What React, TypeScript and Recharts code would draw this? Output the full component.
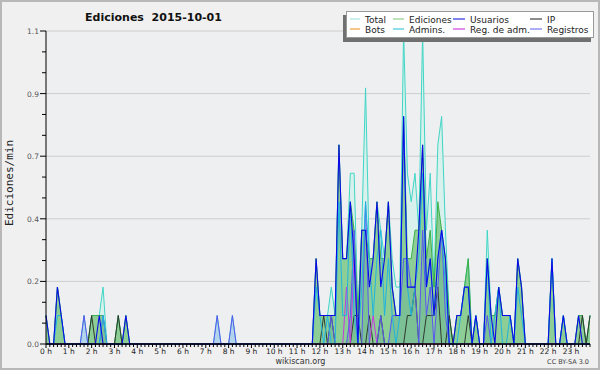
import { ComposedChart, Area, Line, XAxis, YAxis, CartesianGrid } from 'recharts'

const FONT = '"DejaVu Sans", sans-serif'

// 144 slots of 10 minutes, values in edits/min
const total = [
  0.1, 0, 0, 0.2, 0.1, 0, 0, 0, 0, 0, 0.1, 0,
  0.1, 0.1, 0.1, 0.2, 0, 0, 0, 0.1, 0, 0.1, 0, 0,
  0, 0, 0, 0, 0, 0, 0, 0, 0, 0, 0, 0,
  0, 0, 0, 0, 0, 0, 0, 0, 0, 0.1, 0, 0,
  0, 0.1, 0, 0, 0, 0, 0, 0, 0, 0, 0, 0,
  0, 0, 0, 0, 0, 0, 0, 0, 0, 0, 0, 0.3,
  0.1, 0.1, 0.1, 0.2, 0.1, 0.7, 0.3, 0.3, 0.6, 0.6, 0.1, 0.4,
  0.9, 0.3, 0.3, 0.5, 0.4, 0.3, 0.5, 0.3, 0.2, 0.2, 1.1, 0.6,
  0.5, 0.6, 0.4, 1.1, 0.4, 0.6, 0.2, 0.7, 0.8, 0.4, 0.1, 0,
  0.1, 0.1, 0.2, 0.3, 0, 0.1, 0, 0, 0.4, 0.1, 0.1, 0.2,
  0.1, 0.1, 0.1, 0, 0.3, 0.2, 0, 0, 0, 0, 0, 0,
  0, 0.3, 0, 0, 0.1, 0, 0, 0, 0.1, 0.1, 0, 0.1,
]

const ediciones = [
  0.1, 0, 0, 0.2, 0.1, 0, 0, 0, 0, 0, 0, 0,
  0.1, 0.1, 0.1, 0.1, 0, 0, 0, 0.1, 0, 0.1, 0, 0,
  0, 0, 0, 0, 0, 0, 0, 0, 0, 0, 0, 0,
  0, 0, 0, 0, 0, 0, 0, 0, 0, 0, 0, 0,
  0, 0, 0, 0, 0, 0, 0, 0, 0, 0, 0, 0,
  0, 0, 0, 0, 0, 0, 0, 0, 0, 0, 0, 0.3,
  0.1, 0.1, 0.1, 0.1, 0.1, 0.7, 0.3, 0.3, 0.5, 0.4, 0.1, 0.4,
  0.4, 0.3, 0.3, 0.5, 0.3, 0.3, 0.5, 0.2, 0.1, 0.1, 0.8, 0.3,
  0.3, 0.4, 0.4, 0.7, 0.3, 0.4, 0.2, 0.5, 0.4, 0.3, 0.1, 0,
  0.1, 0.1, 0.2, 0.3, 0, 0.1, 0, 0, 0.3, 0.1, 0.1, 0.2,
  0.1, 0.1, 0.1, 0, 0.3, 0.2, 0, 0, 0, 0, 0, 0,
  0, 0.3, 0, 0, 0.1, 0, 0, 0, 0.1, 0.1, 0, 0.1,
]

const usuarios = [
  0.1, 0, 0, 0.2, 0.1, 0, 0, 0, 0, 0, 0, 0,
  0, 0, 0.1, 0, 0, 0, 0, 0, 0, 0.1, 0, 0,
  0, 0, 0, 0, 0, 0, 0, 0, 0, 0, 0, 0,
  0, 0, 0, 0, 0, 0, 0, 0, 0, 0, 0, 0,
  0, 0, 0, 0, 0, 0, 0, 0, 0, 0, 0, 0,
  0, 0, 0, 0, 0, 0, 0, 0, 0, 0, 0, 0.3,
  0.1, 0.1, 0.1, 0.1, 0.1, 0.7, 0.3, 0.3, 0.5, 0.3, 0, 0.4,
  0.4, 0.2, 0.3, 0.5, 0.2, 0.3, 0.5, 0.2, 0.1, 0.1, 0.8, 0.2,
  0.2, 0.2, 0.4, 0.7, 0.2, 0.3, 0.1, 0.3, 0.4, 0.3, 0, 0,
  0.1, 0.1, 0.2, 0.2, 0, 0.1, 0, 0, 0.3, 0.1, 0, 0.2,
  0.1, 0.1, 0.1, 0, 0.3, 0.2, 0, 0, 0, 0, 0, 0,
  0, 0.3, 0, 0, 0.1, 0, 0, 0, 0.1, 0, 0, 0,
]

const ip = [
  0, 0, 0, 0, 0, 0, 0, 0, 0, 0, 0, 0,
  0.1, 0, 0, 0, 0, 0, 0, 0.1, 0, 0, 0, 0,
  0, 0, 0, 0, 0, 0, 0, 0, 0, 0, 0, 0,
  0, 0, 0, 0, 0, 0, 0, 0, 0, 0, 0, 0,
  0, 0, 0, 0, 0, 0, 0, 0, 0, 0, 0, 0,
  0, 0, 0, 0, 0, 0, 0, 0, 0, 0, 0, 0,
  0, 0.1, 0, 0.1, 0, 0, 0, 0, 0, 0.1, 0.1, 0,
  0, 0.1, 0, 0, 0.1, 0, 0, 0, 0, 0, 0, 0.1,
  0.1, 0.2, 0, 0, 0.1, 0.1, 0.1, 0.2, 0, 0, 0.1, 0,
  0, 0, 0, 0.1, 0, 0, 0, 0, 0, 0, 0, 0,
  0, 0, 0, 0, 0, 0, 0, 0, 0, 0, 0, 0,
  0, 0, 0, 0, 0, 0, 0, 0, 0, 0.1, 0, 0.1,
]

const bots = [
  0, 0, 0, 0, 0, 0, 0, 0, 0, 0, 0, 0,
  0, 0, 0, 0, 0, 0, 0, 0, 0, 0, 0, 0,
  0, 0, 0, 0, 0, 0, 0, 0, 0, 0, 0, 0,
  0, 0, 0, 0, 0, 0, 0, 0, 0, 0, 0, 0,
  0, 0, 0, 0, 0, 0, 0, 0, 0, 0, 0, 0,
  0, 0, 0, 0, 0, 0, 0, 0, 0, 0, 0, 0,
  0, 0, 0, 0, 0, 0, 0, 0, 0, 0, 0, 0,
  0, 0, 0, 0, 0, 0, 0, 0, 0, 0, 0, 0,
  0, 0, 0, 0, 0, 0, 0, 0, 0, 0, 0, 0,
  0, 0, 0, 0, 0, 0, 0, 0, 0, 0, 0, 0,
  0, 0, 0, 0, 0, 0, 0, 0, 0, 0, 0, 0,
  0, 0, 0, 0, 0, 0, 0, 0, 0, 0, 0, 0,
]

const admins = [
  0, 0, 0, 0.1, 0.1, 0, 0, 0, 0, 0, 0, 0,
  0, 0, 0, 0.1, 0, 0, 0, 0, 0, 0, 0, 0,
  0, 0, 0, 0, 0, 0, 0, 0, 0, 0, 0, 0,
  0, 0, 0, 0, 0, 0, 0, 0, 0, 0, 0, 0,
  0, 0, 0, 0, 0, 0, 0, 0, 0, 0, 0, 0,
  0, 0, 0, 0, 0, 0, 0, 0, 0, 0, 0, 0.2,
  0.1, 0, 0.1, 0, 0, 0.5, 0.1, 0.1, 0.5, 0.1, 0, 0.2,
  0.5, 0.3, 0.1, 0.3, 0.4, 0.1, 0.3, 0.1, 0, 0.1, 0.8, 0.2,
  0.1, 0.2, 0.3, 0.6, 0.2, 0.3, 0.1, 0.3, 0.4, 0.2, 0, 0,
  0, 0.1, 0.2, 0.2, 0, 0.1, 0, 0, 0.3, 0, 0.1, 0.2,
  0, 0, 0.1, 0, 0.2, 0.1, 0, 0, 0, 0, 0, 0,
  0, 0.3, 0, 0, 0.1, 0, 0, 0, 0, 0, 0, 0,
]

const regAdm = [
  0, 0, 0, 0, 0, 0, 0, 0, 0, 0, 0, 0,
  0, 0, 0, 0, 0, 0, 0, 0, 0, 0, 0, 0,
  0, 0, 0, 0, 0, 0, 0, 0, 0, 0, 0, 0,
  0, 0, 0, 0, 0, 0, 0, 0, 0, 0, 0, 0,
  0, 0, 0, 0, 0, 0, 0, 0, 0, 0, 0, 0,
  0, 0, 0, 0, 0, 0, 0, 0, 0, 0, 0, 0,
  0, 0, 0, 0, 0, 0, 0, 0.2, 0, 0.3, 0, 0,
  0, 0, 0.1, 0, 0, 0, 0, 0, 0, 0, 0, 0,
  0, 0, 0, 0, 0, 0, 0, 0, 0, 0, 0, 0,
  0, 0, 0, 0, 0, 0, 0, 0, 0, 0, 0, 0,
  0, 0, 0, 0, 0, 0, 0, 0, 0, 0, 0, 0,
  0, 0, 0, 0, 0, 0, 0, 0, 0, 0, 0, 0,
]

const registros = [
  0, 0, 0, 0, 0, 0, 0, 0, 0, 0, 0.1, 0,
  0, 0, 0, 0.1, 0, 0, 0, 0, 0, 0, 0, 0,
  0, 0, 0, 0, 0, 0, 0, 0, 0, 0, 0, 0,
  0, 0, 0, 0, 0, 0, 0, 0, 0, 0.1, 0, 0,
  0, 0.1, 0, 0, 0, 0, 0, 0, 0, 0, 0, 0,
  0, 0, 0, 0, 0, 0, 0, 0, 0, 0, 0, 0,
  0, 0, 0, 0.1, 0, 0, 0, 0, 0.1, 0.4, 0, 0,
  0.5, 0, 0, 0, 0.1, 0, 0, 0.1, 0.1, 0.1, 0.3, 0.3,
  0.2, 0.2, 0, 0.4, 0.1, 0.2, 0, 0.2, 0.4, 0.1, 0, 0,
  0, 0, 0, 0, 0, 0, 0, 0, 0.1, 0, 0, 0,
  0, 0, 0, 0, 0, 0, 0, 0, 0, 0, 0, 0,
  0, 0, 0, 0, 0, 0, 0, 0, 0, 0, 0, 0,
]

const hourLabels = [
  '0 h', '1 h', '2 h', '3 h', '4 h', '5 h', '6 h', '7 h', '8 h', '9 h', '10 h', '11 h',
  '12 h', '13 h', '14 h', '15 h', '16 h', '17 h', '18 h', '19 h', '20 h', '21 h', '22 h', '23 h',
]
const yTickValues = [0, 0.22, 0.44, 0.66, 0.88, 1.1]
const yTickLabels = ['0.0', '0.2', '0.4', '0.7', '0.9', '1.1']

const legendItems = [
  { name: 'Total', color: '#a8e6de', col: 0, row: 0 },
  { name: 'Ediciones', color: '#8fd08f', col: 1, row: 0 },
  { name: 'Usuarios', color: '#3030e0', col: 2, row: 0 },
  { name: 'IP', color: '#404040', col: 3, row: 0 },
  { name: 'Bots', color: '#f0a040', col: 0, row: 1 },
  { name: 'Admins.', color: '#40c8e0', col: 1, row: 1 },
  { name: 'Reg. de adm.', color: '#d040e0', col: 2, row: 1 },
  { name: 'Registros', color: '#7878f0', col: 3, row: 1 },
]
const legendCols = [{ x: 4, w: 10 }, { x: 47, w: 11 }, { x: 107, w: 12 }, { x: 184, w: 12 }]

const data = total.map((t, i) => ({
  slot: i,
  total: t,
  ediciones: ediciones[i],
  usuarios: usuarios[i],
  ip: ip[i],
  bots: bots[i],
  admins: admins[i],
  regAdm: regAdm[i],
  registros: registros[i],
}))

const xTicks = data.map(d => d.slot)
const yMinor: number[] = []
for (let k = 0; k < yTickValues.length - 1; k++) {
  const a = yTickValues[k]
  const b = yTickValues[k + 1]
  yMinor.push(a + (b - a) / 3, a + (2 * (b - a)) / 3)
}
const yAllTicks = [...yTickValues, ...yMinor].sort((a, b) => a - b)

function XTick({ x, y, payload }: any) {
  const v = payload.value
  const hour = v % 6 === 0
  return (
    <g>
      <line x1={x} x2={x} y1={y} y2={y + (hour ? 4 : 3)} stroke="#000" strokeWidth={1} />
      {hour && (
        <text x={x} y={y + 10} textAnchor="middle" fontSize={7.5} fontFamily={FONT} fill="#222">
          {hourLabels[v / 6]}
        </text>
      )}
    </g>
  )
}

function YTick({ x, y, payload }: any) {
  const idx = yTickValues.findIndex(v => Math.abs(v - payload.value) < 1e-6)
  const major = idx >= 0
  return (
    <g>
      <line x1={x - (major ? 6 : 4)} x2={x} y1={y} y2={y} stroke="#000" strokeWidth={1} />
      {major && (
        <text x={x - 7} y={y + 3} textAnchor="end" fontSize={7.5} fontFamily={FONT} fill="#555">
          {yTickLabels[idx]}
        </text>
      )}
    </g>
  )
}

function LegendBox() {
  return (
    <div
      style={{
        position: 'absolute', left: 346, top: 11, width: 248, height: 27,
        background: '#fff', border: '1px solid #999', boxSizing: 'border-box',
        boxShadow: '-3px 4px 0 #707070',
      }}
    >
      <svg width={248} height={27} style={{ position: 'absolute', left: -1, top: -1 }}>
        {legendItems.map(it => {
          const c = legendCols[it.col]
          const cy = it.row === 0 ? 8 : 18
          return (
            <g key={it.name}>
              <line x1={c.x} x2={c.x + c.w} y1={cy} y2={cy} stroke={it.color} strokeWidth={1.2} />
              <text x={c.x + c.w + 5} y={cy + 3.5} fontSize={9} fontFamily={FONT} fill="#222">
                {it.name}
              </text>
            </g>
          )
        })}
      </svg>
    </div>
  )
}

export default function App() {
  return (
    <div
      style={{
        position: 'absolute', left: 0, top: 0, width: 600, height: 370,
        background: '#f0f0f0', boxShadow: 'inset 0 0 0 2px #b8b8b8', overflow: 'hidden',
      }}
    >
      <ComposedChart width={600} height={370} data={data} margin={{ top: 31, right: 10, bottom: 6, left: 10 }}>
        <CartesianGrid vertical={false} horizontalValues={yTickValues} stroke="#cdcdcd" fill="#eeeff1" />
        <XAxis
          dataKey="slot" type="number" domain={[0, 143]} ticks={xTicks} interval={0}
          tick={<XTick />} tickLine={false} tickSize={0} tickMargin={0} height={20}
          axisLine={{ stroke: '#000', strokeWidth: 1.5 }}
        />
        <YAxis
          type="number" domain={[0, 1.1]} ticks={yAllTicks} interval={0} width={36}
          tick={<YTick />} tickLine={false} tickSize={0} tickMargin={0}
          axisLine={{ stroke: '#000', strokeWidth: 1 }}
        />
        <Area type="linear" dataKey="total" stroke="#3fd6c6" strokeWidth={1} fill="#d9f1ec" fillOpacity={1} dot={false} isAnimationActive={false} />
        <Area type="linear" dataKey="registros" stroke="none" fill="rgb(110,160,235)" fillOpacity={0.35} dot={false} isAnimationActive={false} />
        <Area type="linear" dataKey="ediciones" stroke="#3cb04a" strokeWidth={1} fill="rgb(70,175,70)" fillOpacity={0.52} dot={false} isAnimationActive={false} />
        <Line type="linear" dataKey="bots" stroke="#f0a040" strokeWidth={1} dot={false} isAnimationActive={false} />
        <Line type="linear" dataKey="ip" stroke="#2f3a2f" strokeWidth={1} dot={false} isAnimationActive={false} />
        <Line type="linear" dataKey="regAdm" stroke="#c838e0" strokeWidth={1} dot={false} isAnimationActive={false} />
        <Line type="linear" dataKey="registros" stroke="#5858f0" strokeWidth={1} dot={false} isAnimationActive={false} />
        <Line type="linear" dataKey="admins" stroke="#20b4e0" strokeWidth={1} dot={false} isAnimationActive={false} />
        <Line type="linear" dataKey="usuarios" stroke="#0a0ae8" strokeWidth={1.1} dot={false} isAnimationActive={false} />
      </ComposedChart>
      <svg width={600} height={370} style={{ position: 'absolute', left: 0, top: 0, pointerEvents: 'none' }}>
        <text x={153.5} y={20.7} textAnchor="middle" fontSize={11} fontWeight="bold" fontFamily={FONT} fill="#111">
          {'Ediciones\u00a0 2015-10-01'}
        </text>
        <text
          x={13} y={183} textAnchor="middle" fontSize={11} fontFamily='"DejaVu Sans Mono", monospace'
          fill="#222" transform="rotate(-90 13 183)"
        >
          Ediciones/min
        </text>
        <text x={300.5} y={363.5} textAnchor="middle" fontSize={8} fontFamily={FONT} fill="#333">
          wikiscan.org
        </text>
        <text x={589} y={363.5} textAnchor="end" fontSize={6.5} fontFamily={FONT} fill="#444">
          CC BY-SA 3.0
        </text>
      </svg>
      <LegendBox />
    </div>
  )
}
